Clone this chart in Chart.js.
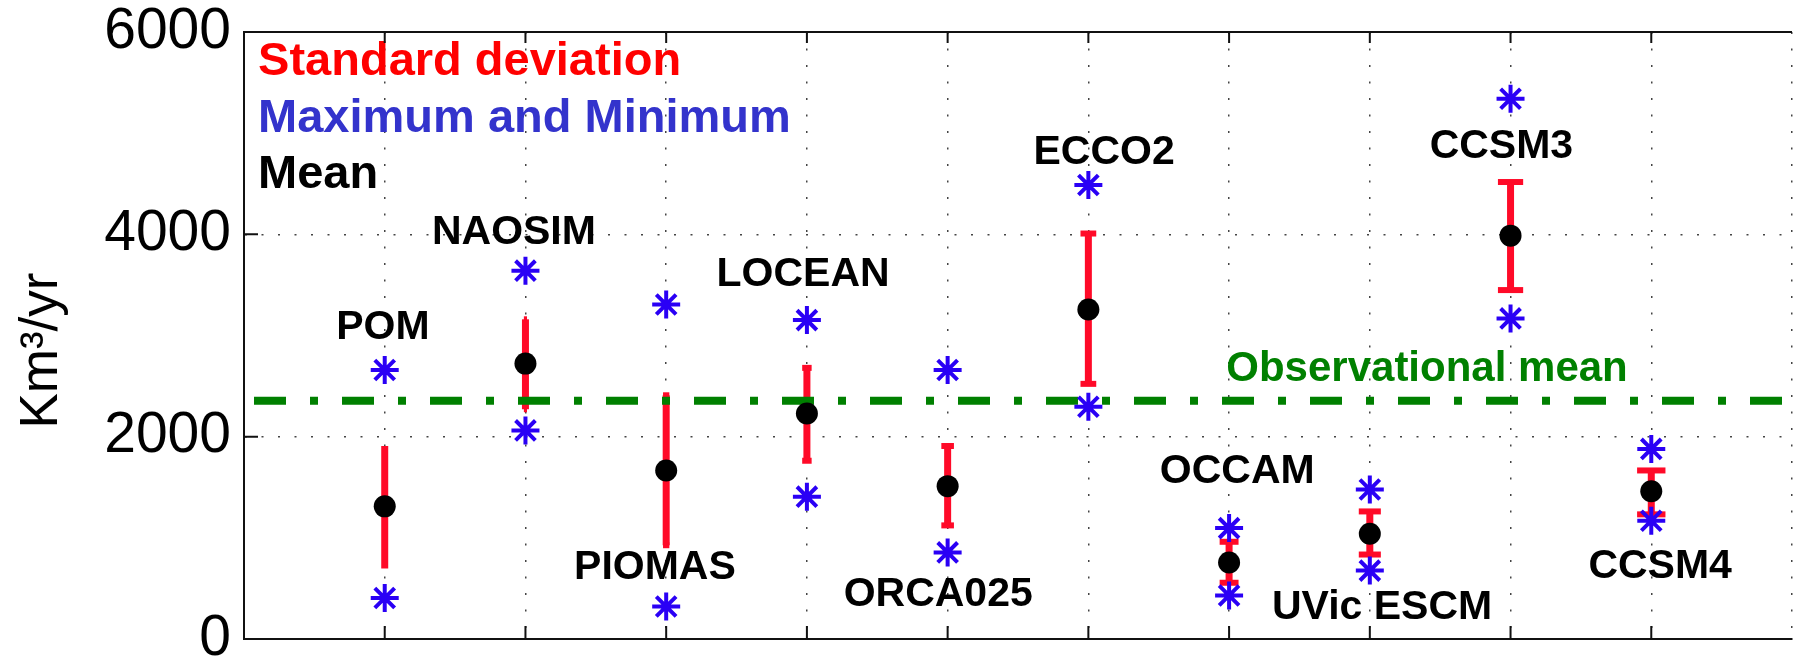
<!DOCTYPE html>
<html><head><meta charset="utf-8">
<script src="https://cdn.jsdelivr.net/npm/chart.js@4.4.1/dist/chart.umd.min.js"></script>
<style>
html,body{margin:0;padding:0;overflow:hidden;background:#fff;width:1806px;height:663px}
#wrap{position:absolute;left:0;top:0;width:1810px;height:663px}
</style>
</head><body>
<div id="wrap"><canvas id="c" width="1810" height="663"></canvas></div>
<script>
// ---------------- data ----------------
const models = ['POM','NAOSIM','PIOMAS','LOCEAN','ORCA025','ECCO2','OCCAM','UVic ESCM','CCSM3','CCSM4'];
const meanValues = [1311, 2722, 1666, 2229, 1511, 3257, 756, 1040, 3987, 1461];
const sdLower    = [ 697, 2271,  927, 1762, 1123, 2522, 556,  835, 3449, 1232];
const sdUpper    = [1908, 3160, 2409, 2680, 1908, 4008, 961, 1261, 4517, 1666];
const minValues  = [ 405, 2062,  321, 1407,  856, 2296, 430,  676, 3169, 1169];
const maxValues  = [2659, 3641, 3307, 3152, 2659, 4488, 1096, 1478, 5340, 1879];
const observationalMean = 2355;
const yTickValues = [0, 2000, 4000, 6000];
const yTickLabels = ['0', '2000', '4000', '6000'];
const legendTexts = ['Standard deviation', 'Maximum and Minimum', 'Mean'];
const obsLabel = 'Observational mean';
const yTitle = 'Km\u00B3/yr';

// ---------------- layout / style ----------------
const FONT = '"Liberation Sans", Arial, Helvetica, sans-serif';
const RED = '#ff0a28', BLUE = '#2a00f5', GREEN = '#008000';
const LAYOUT = {
  labelPos: [[0.987,2961],[1.918,3901],[2.92,590],[3.973,3489],[4.933,331],[6.112,4695],[7.058,1539],[8.087,193],[8.935,4758],[10.063,599]],
  legendX: 0.10, legendY: [5575, 5015, 4455],
  obsX: 6.98, obsY: 2555,
  titleY: 2851, titleBaselineX: 57,
  capStep: 0.0112
};

const xs = models.map((_, i) => i + 1);
const datasets = [];
datasets.push({ data: xs.map((x, i) => ({x, y: meanValues[i]})), pointStyle: 'circle', pointRadius: 11,
  backgroundColor: '#000', borderColor: '#000', borderWidth: 0, order: 0 });
datasets.push({ data: xs.map((x, i) => ({x, y: maxValues[i]})), pointStyle: 'star', pointRadius: 14,
  borderColor: BLUE, backgroundColor: BLUE, borderWidth: 4, order: 1 });
datasets.push({ data: xs.map((x, i) => ({x, y: minValues[i]})), pointStyle: 'star', pointRadius: 14,
  borderColor: BLUE, backgroundColor: BLUE, borderWidth: 4, order: 1 });
datasets.push({ data: [{x: 0, y: observationalMean}, {x: 11, y: observationalMean}], showLine: true,
  borderColor: GREEN, borderWidth: 8, borderDash: [32, 24, 8, 24], borderDashOffset: 78,
  borderCapStyle: 'butt', pointRadius: 0, order: 2 });
xs.forEach((x, i) => {
  datasets.push({ data: [{x, y: sdLower[i]}, {x, y: sdUpper[i]}], showLine: true, borderColor: RED,
    borderWidth: 7, pointRadius: 0, order: 3 });
  const h = LAYOUT.capStep * i;
  if (h > 0) {
    [sdLower[i], sdUpper[i]].forEach(v => {
      datasets.push({ data: [{x: x - h, y: v}, {x: x + h, y: v}], showLine: true, borderColor: RED,
        borderWidth: 6, pointRadius: 0, order: 3 });
    });
  }
});

const decor = {
  id: 'decor',
  afterDatasetsDraw(chart) {
    const ctx = chart.ctx, xS = chart.scales.x, yS = chart.scales.y;
    ctx.save();
    ctx.textBaseline = 'alphabetic';
    ctx.font = 'bold 41px ' + FONT;
    ctx.fillStyle = '#000';
    ctx.textAlign = 'center';
    models.forEach((m, i) => {
      const p = LAYOUT.labelPos[i];
      ctx.fillText(m, xS.getPixelForValue(p[0]), yS.getPixelForValue(p[1]));
    });
    ctx.textAlign = 'left';
    ctx.font = 'bold 47px ' + FONT;
    const cols = ['#ff0000', '#3333cc', '#000000'];
    legendTexts.forEach((t, i) => {
      ctx.fillStyle = cols[i];
      ctx.fillText(t, xS.getPixelForValue(LAYOUT.legendX), yS.getPixelForValue(LAYOUT.legendY[i]));
    });
    ctx.font = 'bold 42px ' + FONT;
    ctx.fillStyle = GREEN;
    ctx.fillText(obsLabel, xS.getPixelForValue(LAYOUT.obsX), yS.getPixelForValue(LAYOUT.obsY));
    ctx.restore();
  },
  afterDraw(chart) {
    const ctx = chart.ctx, a = chart.chartArea, xS = chart.scales.x, yS = chart.scales.y;
    ctx.save();
    ctx.strokeStyle = '#111';
    ctx.lineWidth = 2;
    ctx.beginPath();
    ctx.moveTo(a.left, a.bottom); ctx.lineTo(a.left, a.top); ctx.lineTo(a.right, a.top);
    ctx.moveTo(a.left, a.bottom); ctx.lineTo(a.right, a.bottom);
    ctx.stroke();
    ctx.beginPath();
    xs.forEach(x => {
      const px = xS.getPixelForValue(x);
      ctx.moveTo(px, a.bottom); ctx.lineTo(px, a.bottom - 13);
      ctx.moveTo(px, a.top); ctx.lineTo(px, a.top + 11);
    });
    yTickValues.forEach(v => {
      const py = yS.getPixelForValue(v);
      ctx.moveTo(a.left, py); ctx.lineTo(a.left + 14, py);
    });
    ctx.stroke();
    ctx.fillStyle = '#000';
    ctx.font = '53px ' + FONT;
    ctx.translate(yS.left + LAYOUT.titleBaselineX, yS.getPixelForValue(LAYOUT.titleY));
    ctx.rotate(-Math.PI / 2);
    ctx.textAlign = 'center';
    ctx.textBaseline = 'alphabetic';
    ctx.fillText(yTitle, 0, 0);
    ctx.restore();
  }
};

new Chart(document.getElementById('c'), {
  type: 'scatter',
  data: { datasets },
  options: {
    responsive: false,
    animation: false,
    events: [],
    devicePixelRatio: 1,
    layout: { padding: { top: 32, left: 0, right: 0, bottom: 0 } },
    plugins: { legend: { display: false }, tooltip: { enabled: false } },
    scales: {
      x: {
        type: 'linear', min: 0, max: 11,
        ticks: { stepSize: 1, display: false },
        grid: { color: '#444', lineWidth: 1.5, drawTicks: false },
        border: { display: true, color: '#111', width: 2, dash: [2, 14.5] },
        afterFit(s) { s.height = 24; s.paddingLeft = 0; s.paddingRight = 0; }
      },
      y: {
        type: 'linear', min: 0, max: 6000,
        afterBuildTicks(s) { s.ticks = yTickValues.map(v => ({value: v})); },
        ticks: { stepSize: 2000, padding: 13, color: '#000', font: { family: FONT, size: 57 },
          callback: (v) => yTickLabels[yTickValues.indexOf(v)] },
        grid: { color: '#444', lineWidth: 1.5, drawTicks: false },
        border: { display: true, color: '#111', width: 2, dash: [2, 14.5] },
        afterFit(s) { s.width = 244; s.paddingTop = 0; s.paddingBottom = 0; }
      }
    }
  },
  plugins: [decor]
});
</script>
</body></html>
